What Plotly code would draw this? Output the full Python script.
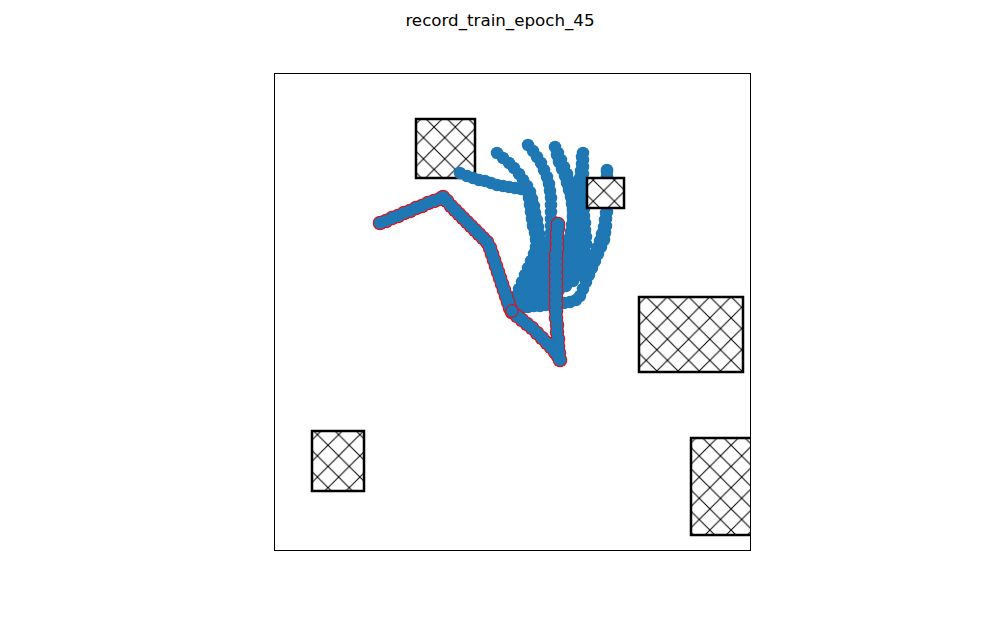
import plotly.graph_objects as go

# ---- obstacles: (x0, x1, y0, y1) in scene units ----
obs_x0 = [141, 312, 364, 37, 416]
obs_x1 = [200, 349, 468, 89, 490]
obs_y0 = [372, 342, 178, 59, 15]
obs_y1 = [431, 372, 253, 119, 112]

# ---- recorded (red-outlined) trajectory ----
red_x = [105, 111, 117, 123, 129, 135, 141, 147, 153, 159, 165, 168, 172, 176, 180, 184, 188, 192, 196, 200,
         204, 208, 212, 215, 217, 219, 221, 223, 225, 227, 229, 231, 233, 235, 237, 242, 247, 252, 257, 262,
         267, 272, 276, 280, 283, 285, 284, 283, 283, 282, 282, 281, 281, 281, 281, 281, 281, 281, 281, 281,
         281, 282, 282, 282, 283, 283]
red_y = [327, 329, 332, 334, 337, 339, 342, 344, 347, 349, 351, 353, 349, 344, 340, 336, 332, 328, 324, 320,
         316, 312, 308, 302, 296, 290, 284, 278, 272, 266, 260, 254, 248, 242, 238, 234, 230, 226, 222, 217,
         212, 207, 203, 198, 194, 190, 197, 204, 211, 218, 225, 232, 239, 246, 253, 260, 267, 274, 281, 288,
         295, 302, 309, 316, 322, 326]

# current position (start of the sampled trajectories)
cur_x = [237]
cur_y = [239]

# ---- sampled (blue) trajectories ----
b1_x = [237, 238, 241, 244, 247, 250, 253, 256, 259, 261, 261, 260, 258, 257, 256, 255, 254, 252, 246, 240,
        234, 228, 222, 216, 210, 204, 198, 192, 185]
b1_y = [240, 247, 254, 261, 268, 275, 282, 289, 296, 303, 310, 317, 324, 331, 338, 345, 352, 359, 361, 362,
        363, 364, 365, 367, 369, 370, 372, 374, 377]

b2_x = [237, 240, 243, 247, 251, 255, 259, 262, 264, 265, 265, 264, 263, 262, 260, 259, 257, 255, 252, 248,
        244, 239, 234, 228, 222]
b2_y = [240, 247, 254, 261, 268, 275, 282, 289, 296, 302, 309, 316, 323, 330, 337, 344, 351, 358, 364, 370,
        376, 382, 387, 392, 397]

b3_x = [237, 241, 246, 251, 256, 261, 265, 269, 272, 274, 275, 276, 276, 276, 276, 276, 276, 275, 274, 272,
        269, 266, 262, 258, 253]
b3_y = [240, 247, 254, 261, 268, 275, 282, 289, 296, 303, 310, 317, 324, 331, 338, 345, 352, 359, 366, 373,
        380, 387, 393, 399, 405]

b4_x = [237, 241, 246, 252, 258, 264, 270, 276, 282, 287, 291, 294, 296, 297, 298, 298, 298, 298, 298, 297,
        296, 294, 292, 289, 286, 283, 280]
b4_y = [240, 242, 245, 250, 255, 261, 267, 273, 279, 285, 292, 299, 306, 313, 320, 327, 334, 341, 348, 355,
        362, 369, 376, 383, 390, 397, 403]

b5_x = [237, 242, 248, 255, 262, 269, 276, 283, 289, 295, 300, 304, 307, 309, 311, 311, 310, 310, 309, 309,
        308, 308, 308, 308, 308, 308, 308, 308]
b5_y = [240, 241, 243, 246, 250, 254, 258, 263, 268, 273, 279, 285, 292, 299, 306, 313, 320, 327, 334, 341,
        348, 355, 362, 369, 376, 383, 390, 397]

b6_x = [237, 242, 247, 253, 259, 265, 271, 277, 283, 289, 295, 301, 305, 308, 311, 314, 317, 320, 323, 326,
        329, 330, 331, 331, 332, 332, 332, 332, 332, 332, 332]
b6_y = [240, 241, 242, 243, 244, 244, 245, 245, 246, 247, 248, 250, 254, 261, 268, 275, 282, 289, 296, 303,
        310, 317, 324, 331, 338, 345, 352, 359, 366, 373, 380]

b7_x = [237, 244, 252, 260, 268, 276, 284, 291, 298, 304, 309, 314, 318, 322, 325, 327, 329, 330, 331, 331,
        332, 332, 332, 332, 332]
b7_y = [240, 244, 247, 250, 253, 256, 260, 264, 269, 275, 281, 288, 295, 302, 309, 316, 323, 330, 337, 344,
        351, 358, 365, 372, 378]

b8_x = [237, 243, 250, 257, 264, 271, 278, 285, 291, 297, 301, 304, 306, 307, 307, 306, 306, 305, 305, 305,
        305, 305, 306, 307, 307]
b8_y = [240, 246, 251, 256, 261, 266, 271, 276, 282, 288, 295, 302, 309, 316, 323, 330, 337, 344, 351, 358,
        365, 372, 379, 386, 393]

b9_x = [237, 242, 248, 254, 260, 266, 272, 277, 282, 287, 291, 294, 296, 297, 298, 298, 297, 296, 294, 292,
        290, 287, 284, 282]
b9_y = [240, 247, 253, 259, 265, 271, 277, 283, 290, 297, 304, 311, 318, 325, 332, 339, 346, 353, 360, 367,
        374, 381, 388, 395]

blue_xs = [b1_x, b2_x, b3_x, b4_x, b5_x, b6_x, b7_x, b8_x, b9_x]
blue_ys = [b1_y, b2_y, b3_y, b4_y, b5_y, b6_y, b7_y, b8_y, b9_y]

BLUE = "#1f77b4"
MS = 12.5

fig = go.Figure()


def add_obstacle(i):
    x0, x1, y0, y1 = obs_x0[i], obs_x1[i], obs_y0[i], obs_y1[i]
    fig.add_trace(go.Scatter(
        x=[x0, x1, x1, x0, x0, x1], y=[y0, y0, y1, y1, y0, y0],
        mode="lines", fill="toself", fillcolor="white",
        fillpattern=dict(shape="x", fgcolor="black", bgcolor="white", fgopacity=1,
                         size=15, solidity=0.13),
        line=dict(color="black", width=2.5),
        hoverinfo="skip", showlegend=False))


add_obstacle(0)

for bx, by in zip(blue_xs, blue_ys):
    fig.add_trace(go.Scatter(x=bx, y=by, mode="markers",
                             marker=dict(size=MS, color=BLUE, line=dict(width=0)),
                             showlegend=False))

# red outline underlay, then blue on top
fig.add_trace(go.Scatter(x=red_x, y=red_y, mode="markers",
                         marker=dict(size=MS + 2, color="red", line=dict(width=0)),
                         showlegend=False))
fig.add_trace(go.Scatter(x=red_x, y=red_y, mode="markers",
                         marker=dict(size=MS, color=BLUE, line=dict(width=0)),
                         showlegend=False))
fig.add_trace(go.Scatter(x=cur_x, y=cur_y, mode="markers",
                         marker=dict(size=MS, color=BLUE, line=dict(width=1, color="red")),
                         showlegend=False))

for i in range(1, len(obs_x0)):
    add_obstacle(i)

axis_common = dict(showline=True, mirror=True, linecolor="black", linewidth=1,
                   showgrid=False, zeroline=False, showticklabels=False, ticks="")
fig.update_xaxes(range=[0, 475], **axis_common)
fig.update_yaxes(range=[0, 476], **axis_common)

fig.update_layout(
    width=1000, height=618,
    margin=dict(l=275, r=250, t=74, b=68),
    paper_bgcolor="white", plot_bgcolor="white",
    title=dict(text="record_train_epoch_45", x=0.5, xanchor="center",
               y=1 - 20 / 618, yanchor="middle", yref="container",
               font=dict(family="DejaVu Sans", size=16.7, color="black")),
    showlegend=False,
)

fig.write_html("out.html")
